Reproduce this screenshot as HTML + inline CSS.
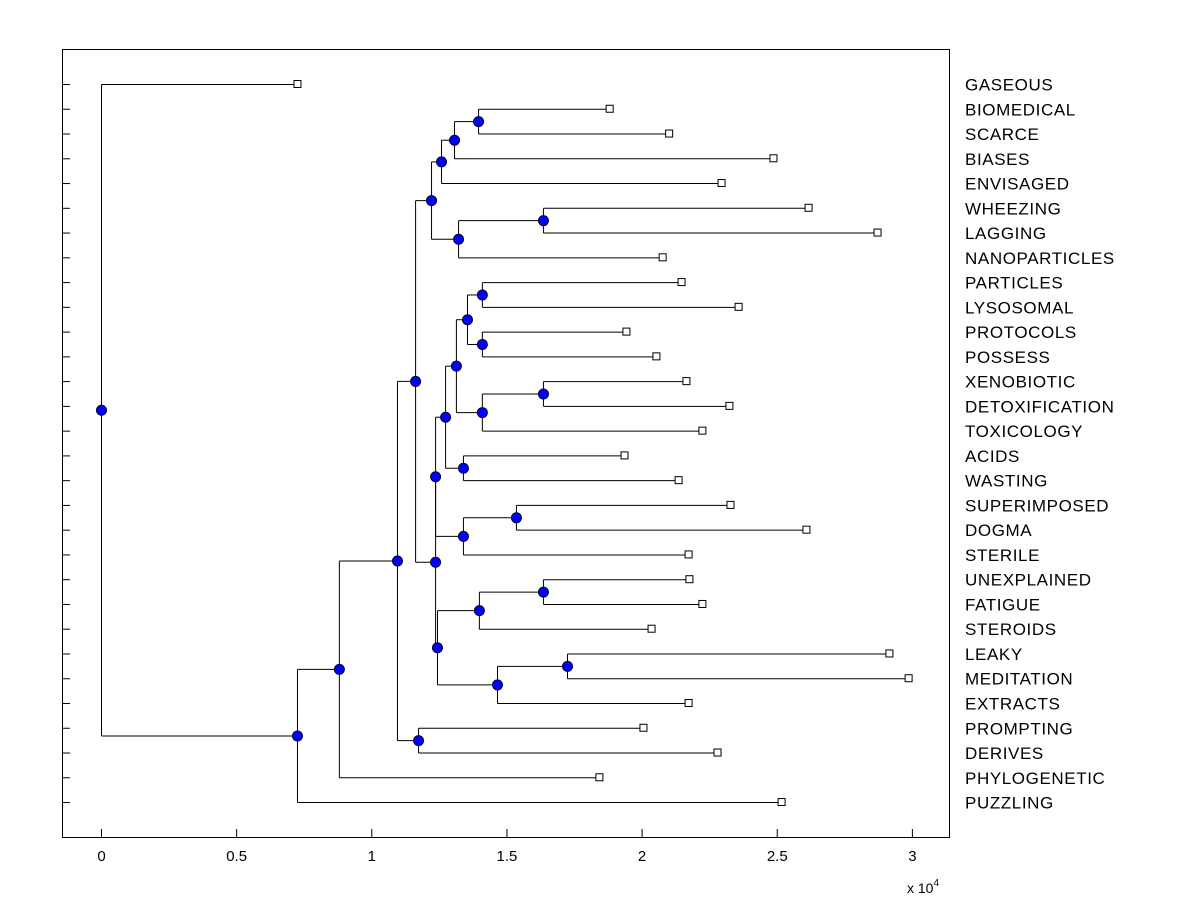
<!DOCTYPE html>
<html><head><meta charset="utf-8"><style>
body{margin:0;background:#fff;}
svg text{font-family:"Liberation Sans",Arial,sans-serif;}
</style></head><body>
<svg id="chart" width="1200" height="900" xmlns="http://www.w3.org/2000/svg">
<rect x="0" y="0" width="1200" height="900" fill="#fff"/>
<rect x="62.5" y="49.5" width="887" height="788" fill="none" stroke="#000"/>
<g id="g"></g>
</svg>
<script>
const labels=["GASEOUS","BIOMEDICAL","SCARCE","BIASES","ENVISAGED","WHEEZING","LAGGING","NANOPARTICLES","PARTICLES","LYSOSOMAL","PROTOCOLS","POSSESS","XENOBIOTIC","DETOXIFICATION","TOXICOLOGY","ACIDS","WASTING","SUPERIMPOSED","DOGMA","STERILE","UNEXPLAINED","FATIGUE","STEROIDS","LEAKY","MEDITATION","EXTRACTS","PROMPTING","DERIVES","PHYLOGENETIC","PUZZLING"];
const leafValues=[0.725,1.88,2.10,2.486,2.294,2.616,2.871,2.076,2.146,2.357,1.942,2.053,2.164,2.323,2.223,1.935,2.135,2.327,2.608,2.172,2.175,2.223,2.035,2.915,2.986,2.172,2.005,2.279,1.842,2.516];
const nodeHeights=[0,0.725,0.880,1.095,1.173,1.162,1.221,1.258,1.306,1.395,1.321,1.635,1.236,1.236,1.243,1.273,1.313,1.354,1.409,1.409,1.409,1.635,1.339,1.339,1.535,1.398,1.635,1.465,1.724];
const xTicks=[0,0.5,1,1.5,2,2.5,3];
const xTickLabels=["0","0.5","1","1.5","2","2.5","3"];
// tree structure: [nodeIndex, child, child]; numbers = leaf indices
const tree=[0,0,[1,[2,[3,[5,[6,[7,[8,[9,1,2],3],4],[10,[11,5,6],7]],[13,[12,[15,[16,[17,[18,8,9],[19,10,11]],[20,[21,12,13],14]],[22,15,16]],[23,[24,17,18],19]],[14,[25,[26,20,21],22],[27,[28,23,24],25]]]],[4,26,27]],28],29]];
const NS="http://www.w3.org/2000/svg";
const g=document.getElementById('g');
const X=v=>101.5+v*270.3;
const Y=i=>84.5+i*24.76;
function mk(t,a){const e=document.createElementNS(NS,t);for(const k in a)e.setAttribute(k,a[k]);g.appendChild(e);return e;}
const nodes=[],leaves=[];
function lay(n){
  if(typeof n==='number'){const p={x:X(leafValues[n]),y:Y(n)};leaves.push([p,n]);return p;}
  const kids=n.slice(1).map(lay);
  const x=X(nodeHeights[n[0]]);
  const y=(kids[0].y+kids[kids.length-1].y)/2;
  const ys=kids.map(k=>k.y);
  let l=mk('line',{x1:x,x2:x,y1:Math.min(...ys),y2:Math.max(...ys),stroke:'#000','stroke-width':1});
  
  
  kids.forEach(k=>{let h=mk('line',{x1:x,x2:k.x,y1:k.y,y2:k.y,stroke:'#000','stroke-width':1});
    
    });
  nodes.push({x,y});
  return {x,y};
}
lay(tree);
nodes.forEach(p=>{const c=mk('circle',{cx:p.x,cy:p.y,r:5,fill:'#0000ff',stroke:'#000033','stroke-width':1});
  
  });
leaves.forEach(([p,i])=>{const r=mk('rect',{x:p.x-3.5,y:p.y-4,width:7,height:7,fill:'#fff',stroke:'#000','stroke-width':1});
  
  });
labels.forEach((s,i)=>{
  const t=mk('line',{x1:62,x2:70,y1:Y(i),y2:Y(i),stroke:'#000'});
  
  
  const tx=mk('text',{x:965,y:Y(i)+6,'font-size':17,'letter-spacing':0.6,fill:'#000'});tx.textContent=s;
  
  
});
xTicks.forEach((v,i)=>{
  const t=mk('line',{x1:X(v),x2:X(v),y1:829,y2:837,stroke:'#000'});
  
  
  const tx=mk('text',{x:X(v),y:861,'font-size':15,'text-anchor':'middle',fill:'#000'});tx.textContent=xTickLabels[i];
  
  
});
const ex=mk('text',{x:907,y:893,'font-size':14,fill:'#000'});
ex.innerHTML='x 10<tspan dy="-7" font-size="10">4</tspan>';


</script>
</body></html>
